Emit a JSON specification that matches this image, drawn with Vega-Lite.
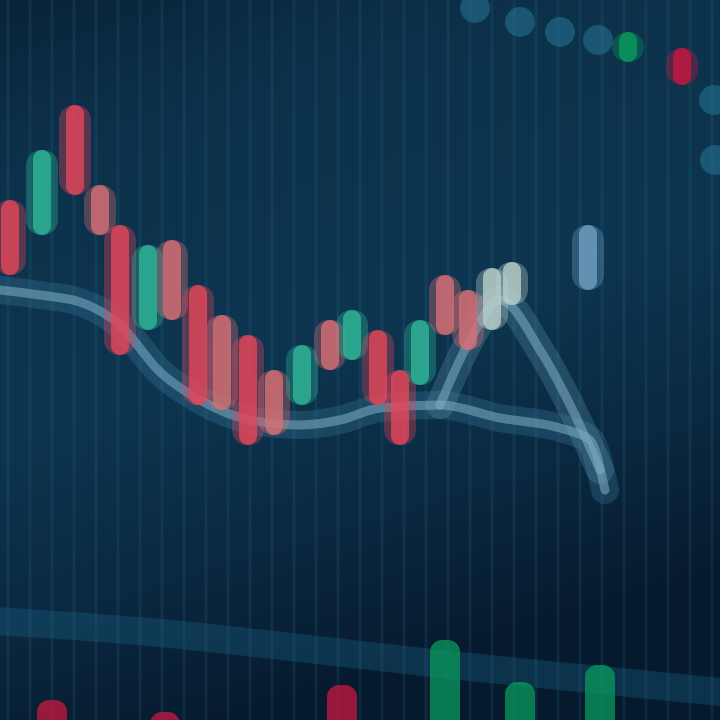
{
  "$schema": "https://vega.github.io/schema/vega-lite/v6.json",
  "width": 720,
  "height": 720,
  "padding": 0,
  "autosize": {"type": "fit", "contains": "padding"},
  "background": "#0b2e47",
  "config": {"view": {"stroke": null}},
  "datasets": {
    "grid": [
      {"x": 8}, {"x": 30}, {"x": 52}, {"x": 74}, {"x": 96}, {"x": 118}, {"x": 140}, {"x": 162}, {"x": 184}, {"x": 206},
      {"x": 228}, {"x": 250}, {"x": 272}, {"x": 294}, {"x": 316}, {"x": 338}, {"x": 360}, {"x": 382}, {"x": 404}, {"x": 426},
      {"x": 448}, {"x": 470}, {"x": 492}, {"x": 514}, {"x": 536}, {"x": 558}, {"x": 580}, {"x": 602}, {"x": 624}, {"x": 646},
      {"x": 668}, {"x": 690}, {"x": 712}
    ],
    "bg": [{"x0": 0, "x1": 720, "y0": 0, "y1": 720}],
    "candles": [
      {"t": 10, "top": 200, "bottom": 275, "c": "down"},
      {"t": 42, "top": 150, "bottom": 235, "c": "up"},
      {"t": 75, "top": 105, "bottom": 195, "c": "down"},
      {"t": 100, "top": 185, "bottom": 235, "c": "soft"},
      {"t": 120, "top": 225, "bottom": 355, "c": "down"},
      {"t": 148, "top": 245, "bottom": 330, "c": "up"},
      {"t": 172, "top": 240, "bottom": 320, "c": "soft"},
      {"t": 198, "top": 285, "bottom": 405, "c": "down"},
      {"t": 222, "top": 315, "bottom": 410, "c": "soft"},
      {"t": 248, "top": 335, "bottom": 445, "c": "down"},
      {"t": 274, "top": 370, "bottom": 435, "c": "soft"},
      {"t": 302, "top": 345, "bottom": 405, "c": "up"},
      {"t": 330, "top": 320, "bottom": 370, "c": "soft"},
      {"t": 352, "top": 310, "bottom": 360, "c": "up"},
      {"t": 378, "top": 330, "bottom": 405, "c": "down"},
      {"t": 400, "top": 370, "bottom": 445, "c": "down"},
      {"t": 420, "top": 320, "bottom": 385, "c": "up"},
      {"t": 445, "top": 275, "bottom": 335, "c": "soft"},
      {"t": 468, "top": 290, "bottom": 350, "c": "soft"},
      {"t": 492, "top": 268, "bottom": 330, "c": "pale"},
      {"t": 512, "top": 262, "bottom": 305, "c": "pale"},
      {"t": 588, "top": 225, "bottom": 290, "c": "blue"},
      {"t": 628, "top": 32, "bottom": 62, "c": "green"},
      {"t": 682, "top": 48, "bottom": 85, "c": "red"}
    ],
    "dots": [
      {"t": 475, "y": 8}, {"t": 520, "y": 22}, {"t": 560, "y": 32}, {"t": 598, "y": 40}, {"t": 714, "y": 100}, {"t": 715, "y": 160}
    ],
    "lines": [
      {"s": "a", "i": 0, "t": 0, "y": 290}, {"s": "a", "i": 1, "t": 40, "y": 295}, {"s": "a", "i": 2, "t": 80, "y": 302},
      {"s": "a", "i": 3, "t": 120, "y": 325}, {"s": "a", "i": 4, "t": 160, "y": 372}, {"s": "a", "i": 5, "t": 200, "y": 400},
      {"s": "a", "i": 6, "t": 250, "y": 420}, {"s": "a", "i": 7, "t": 300, "y": 425}, {"s": "a", "i": 8, "t": 340, "y": 420},
      {"s": "a", "i": 9, "t": 380, "y": 408}, {"s": "a", "i": 10, "t": 440, "y": 405}, {"s": "a", "i": 11, "t": 500, "y": 418},
      {"s": "a", "i": 12, "t": 560, "y": 428}, {"s": "a", "i": 13, "t": 590, "y": 440}, {"s": "a", "i": 14, "t": 605, "y": 490},
      {"s": "b", "i": 0, "t": 440, "y": 405}, {"s": "b", "i": 1, "t": 470, "y": 340}, {"s": "b", "i": 2, "t": 500, "y": 300},
      {"s": "b", "i": 3, "t": 540, "y": 350}, {"s": "b", "i": 4, "t": 575, "y": 415}, {"s": "b", "i": 5, "t": 600, "y": 470},
      {"s": "c", "i": 0, "t": -20, "y": 620}, {"s": "c", "i": 1, "t": 150, "y": 632}, {"s": "c", "i": 2, "t": 300, "y": 648},
      {"s": "c", "i": 3, "t": 450, "y": 665}, {"s": "c", "i": 4, "t": 600, "y": 680}, {"s": "c", "i": 5, "t": 740, "y": 694}
    ],
    "volume": [
      {"t": 52, "top": 700, "c": "red"},
      {"t": 165, "top": 712, "c": "red"},
      {"t": 342, "top": 685, "c": "red"},
      {"t": 445, "top": 640, "c": "green"},
      {"t": 520, "top": 682, "c": "green"},
      {"t": 600, "top": 665, "c": "green"}
    ]
  },
  "layer": [
    {
      "data": {"name": "bg"},
      "mark": {"type": "rect", "clip": true, "fill": {"gradient": "linear", "x1": 0, "y1": 0, "x2": 0.3, "y2": 1,
        "stops": [{"offset": 0, "color": "#082338"}, {"offset": 0.2, "color": "#0c3049"}, {"offset": 0.55, "color": "#0d3550"}, {"offset": 0.8, "color": "#0a2840"}, {"offset": 1, "color": "#061a2e"}]}},
      "encoding": {
        "x": {"field": "x0", "type": "quantitative", "scale": {"domain": [0, 720], "nice": false, "zero": false, "padding": 0}, "axis": null},
        "x2": {"field": "x1"},
        "y": {"field": "y0", "type": "quantitative", "scale": {"domain": [0, 720], "reverse": true, "nice": false, "zero": false}, "axis": null},
        "y2": {"field": "y1"}
      }
    },
    {
      "data": {"name": "grid"},
      "mark": {"type": "rule", "color": "#2c6a88", "strokeWidth": 3, "opacity": 0.2, "clip": true},
      "encoding": {"x": {"field": "x", "type": "quantitative"}}
    },
    {
      "data": {"name": "lines"},
      "mark": {"type": "line", "interpolate": "monotone", "strokeWidth": 28, "opacity": 0.3, "strokeCap": "round", "strokeJoin": "round", "clip": true},
      "encoding": {
        "x": {"field": "t", "type": "quantitative"},
        "y": {"field": "y", "type": "quantitative"},
        "detail": {"field": "s"},
        "order": {"field": "i"},
        "color": {"field": "s", "type": "nominal", "legend": null,
          "scale": {"domain": ["a", "b", "c", "down", "up", "soft", "pale", "blue", "green", "red"],
                    "range": ["#3f7fa0", "#5c93ad", "#1f6e92", "#e3465a", "#2fb596", "#d76f75", "#b9cfc9", "#6f9fbf", "#0a9a5c", "#c8183f"]}}
      }
    },
    {
      "data": {"name": "lines"},
      "transform": [{"filter": "datum.s != 'c'"}],
      "mark": {"type": "line", "interpolate": "monotone", "strokeWidth": 9, "opacity": 0.55, "strokeCap": "round", "strokeJoin": "round", "color": "#7eaec4", "clip": true},
      "encoding": {
        "x": {"field": "t", "type": "quantitative"},
        "y": {"field": "y", "type": "quantitative"},
        "detail": {"field": "s"},
        "order": {"field": "i"}
      }
    },
    {
      "data": {"name": "volume"},
      "mark": {"type": "bar", "size": 30, "opacity": 0.75, "cornerRadius": 12, "clip": true},
      "encoding": {
        "x": {"field": "t", "type": "quantitative"},
        "y": {"field": "top", "type": "quantitative"},
        "y2": {"datum": 740},
        "color": {"field": "c", "type": "nominal", "legend": null}
      }
    },
    {
      "data": {"name": "candles"},
      "mark": {"type": "bar", "size": 32, "opacity": 0.35, "cornerRadius": 15, "clip": true},
      "encoding": {
        "x": {"field": "t", "type": "quantitative"},
        "y": {"field": "top", "type": "quantitative"},
        "y2": {"field": "bottom"},
        "color": {"field": "c", "type": "nominal", "legend": null}
      }
    },
    {
      "data": {"name": "candles"},
      "mark": {"type": "bar", "size": 18, "opacity": 0.8, "cornerRadius": 9, "clip": true},
      "encoding": {
        "x": {"field": "t", "type": "quantitative"},
        "y": {"field": "top", "type": "quantitative"},
        "y2": {"field": "bottom"},
        "color": {"field": "c", "type": "nominal", "legend": null}
      }
    },
    {
      "data": {"name": "dots"},
      "mark": {"type": "circle", "size": 900, "opacity": 0.4, "color": "#2f8fb0", "clip": true},
      "encoding": {
        "x": {"field": "t", "type": "quantitative"},
        "y": {"field": "y", "type": "quantitative"}
      }
    }
  ]
}
